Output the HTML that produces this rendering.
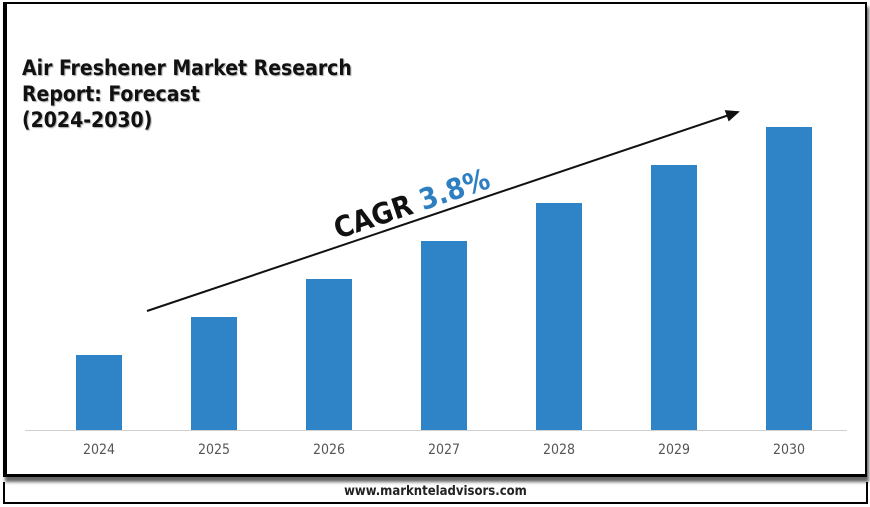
<!DOCTYPE html>
<html><head><meta charset="utf-8"><style>
body{margin:0;width:870px;height:507px;background:#fff;position:relative;overflow:hidden;font-family:"DejaVu Sans","Liberation Sans",sans-serif}
</style></head><body>
<div style="position:absolute;left:3px;top:2px;width:858px;height:470px;border:2px solid #000;border-left-width:4px;border-bottom-width:3px;box-shadow:2px 5px 3px #666"></div>
<div style="position:absolute;left:3px;top:482px;width:861px;height:20px;border:2px solid #000;border-top:none;text-align:center;font-family:'DejaVu Sans Condensed','DejaVu Sans',sans-serif;font-size:13px;line-height:20px;font-weight:bold;color:#222">www.marknteladvisors.com</div>
<div style="position:absolute;left:22px;top:55px;font-family:'DejaVu Sans Condensed','DejaVu Sans',sans-serif;font-size:21px;font-weight:bold;line-height:26px;color:#111;text-shadow:1px 1px 1px #aaa">Air Freshener Market Research<br>Report: Forecast<br>(2024-2030)</div>
<svg id="c" width="870" height="507" style="position:absolute;left:0;top:0">
<defs><marker id="ah" markerWidth="7" markerHeight="6" refX="6" refY="3" orient="auto"><path d="M0,0 L7,3 L0,6z" fill="#111"/></marker></defs>
<line x1="25" y1="430.5" x2="847" y2="430.5" stroke="#d0d0d0" stroke-width="1"/>
<line x1="147" y1="311" x2="738" y2="112" stroke="#111" stroke-width="2" marker-end="url(#ah)"/>
<text transform="translate(338,239) rotate(-18.6)" font-family="'DejaVu Sans Condensed','DejaVu Sans',sans-serif" font-weight="bold" font-size="29" fill="#111">CAGR <tspan fill="#2e7fc2">3.8%</tspan></text>
</svg>
<script>
const categories=["2024","2025","2026","2027","2028","2029","2030"];
const values=[7.5,11.3,15.1,18.9,22.7,26.5,30.3];
const yMax=30.3;
const svg=document.getElementById('c');
const ns="http://www.w3.org/2000/svg";
const x=i=>99+i*115;
const y=v=>430-v/yMax*303;
categories.forEach((c,i)=>{
 const r=document.createElementNS(ns,'rect');
 r.setAttribute('x',x(i)-23);r.setAttribute('width',46);
 r.setAttribute('y',y(values[i]));r.setAttribute('height',430-y(values[i]));
 r.setAttribute('fill','#2e84c6');
 
 
 svg.insertBefore(r,svg.children[1]);
 const t=document.createElementNS(ns,'text');
 t.setAttribute('x',x(i));t.setAttribute('y',454);t.setAttribute('text-anchor','middle');
 t.setAttribute('font-size','14');t.setAttribute('fill','#555');
 t.setAttribute('font-family',"'DejaVu Sans Condensed','DejaVu Sans',sans-serif");
 t.textContent=c;
 
 
 svg.appendChild(t);
});
</script>
</body></html>
